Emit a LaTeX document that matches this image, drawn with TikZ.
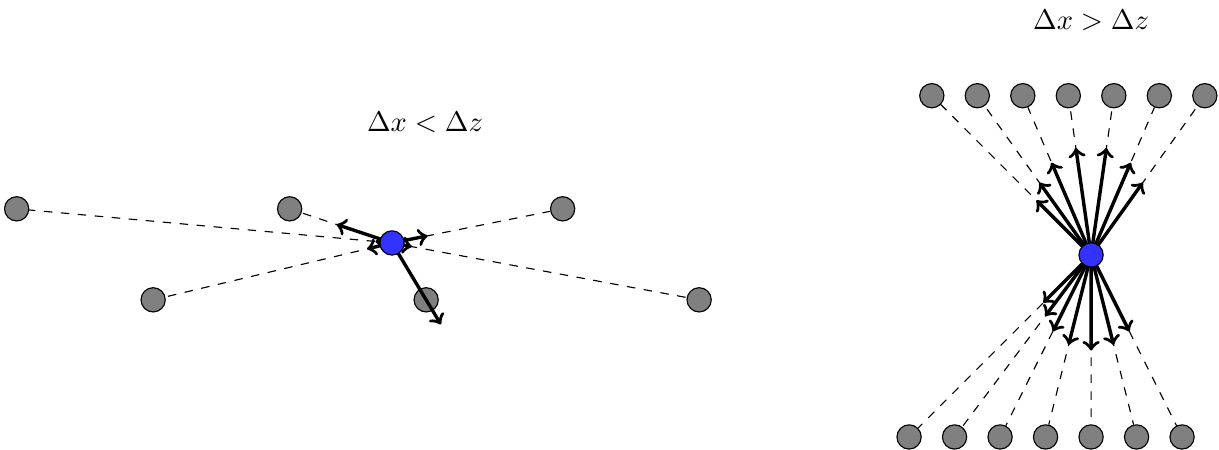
\documentclass[tikz,border=0pt]{standalone}
\usepackage{amssymb}
\usepackage{tikz}
\usetikzlibrary{arrows}
\usetikzlibrary{calc}

\tikzset{
gnode/.style={circle,draw,fill=gray,minimum size=0.3cm,inner sep=0pt},
bnode/.style={circle,draw,fill=blue!80,minimum size=0.3cm,inner sep=0pt},
spring/.style={dashed,thin},
force/.style={->,very thick}
}

\begin{document}
\begin{tikzpicture}[scale=1.125]
\useasboundingbox (-4.308,-2.275) rectangle (9.088,2.670);

% Delta x < Delta z
\coordinate (lc) at (0,0);
\foreach \x/\y [count=\i] in {-4.125/0.375,-1.125/0.375,1.875/0.375,-2.625/-0.625,0.375/-0.625,3.375/-0.625} {
	\node[gnode] (lg-\i) at (\x,\y) {};
	\pgfmathsetmacro{\len}{0.76/((\x)*(\x)+(\y)*(\y))}
	\draw[spring] (lc) -- (lg-\i);
	\draw[force] (lc) -- ($(lc)!\len!(lg-\i)$);
}
\node[bnode] (lb) at (lc) {};
\node (lbl-l) at (0.363,1.324) {$\Delta x < \Delta z$};

% Delta x > Delta z
\coordinate (rc) at (7.681,-0.132);
\foreach \x [count=\i] in {-1.75,-1.25,-0.75,-0.25,0.25,0.75,1.25} {
	\node[gnode] (rt-\i) at ($(rc)+(\x,1.75)$) {};
	\pgfmathsetmacro{\len}{2.1/((\x)*(\x)+3.0625)}
	\draw[spring] (rc) -- (rt-\i);
	\draw[force] (rc) -- ($(rc)!\len!(rt-\i)$);
}
\foreach \x [count=\i] in {-2,-1.5,-1,-0.5,0,0.5,1} {
	\node[gnode] (rd-\i) at ($(rc)+(\x,-2)$) {};
	\pgfmathsetmacro{\len}{2.1/((\x)*(\x)+4)}
	\draw[spring] (rc) -- (rd-\i);
	\draw[force] (rc) -- ($(rc)!\len!(rd-\i)$);
}
\node[bnode] (rb) at (rc) {};
\node (lbl-r) at ($(rc)+(0,2.577)$) {$\Delta x > \Delta z$};
\end{tikzpicture}
\end{document}
